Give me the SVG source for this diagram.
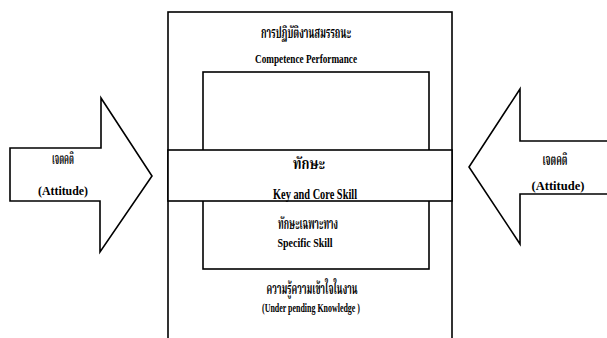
<svg xmlns="http://www.w3.org/2000/svg" width="607" height="338" viewBox="0 0 607 338">
<style>
.ln{fill:#fff;stroke:#000;stroke-width:1.6;stroke-linejoin:miter}
.t{font-family:"Liberation Serif","Noto Serif Thai","Noto Sans Thai","DejaVu Serif",serif;font-weight:bold;fill:#000;text-anchor:middle}
.th{font-size:16px}
</style>
<rect width="607" height="338" fill="#fff"/>
<g id="outer">
<rect class="ln" x="168" y="12" width="284" height="345"/>
<text class="t th" x="306" y="38" textLength="90" lengthAdjust="spacingAndGlyphs">การปฏิบัติงานสมรรถนะ</text>
<text class="t" x="306" y="63" font-size="12" textLength="102" lengthAdjust="spacingAndGlyphs">Competence Performance</text>
<text class="t th" x="312" y="294" textLength="91" lengthAdjust="spacingAndGlyphs">ความรู้ความเข้าใจในงาน</text>
<text class="t" x="311" y="312" font-size="12" textLength="98" lengthAdjust="spacingAndGlyphs">(Under pending Knowledge )</text>
</g>
<g id="inner">
<rect class="ln" x="203" y="72" width="226" height="197"/>
<text class="t th" x="308" y="229" textLength="60" lengthAdjust="spacingAndGlyphs">ทักษะเฉพาะทาง</text>
<text class="t" x="305" y="247" font-size="12" textLength="55" lengthAdjust="spacingAndGlyphs">Specific Skill</text>
</g>
<g id="band">
<rect class="ln" x="168" y="150" width="284" height="51"/>
<text class="t th" x="309" y="169" textLength="32" lengthAdjust="spacingAndGlyphs">ทักษะ</text>
<text class="t" x="315" y="199" font-size="14" textLength="84" lengthAdjust="spacingAndGlyphs">Key and Core Skill</text>
</g>
<g id="arrow-left">
<path class="ln" d="M10 148 H101 V98 L152 176 L100 252 V201 H10 Z"/>
<text class="t th" x="63" y="164" textLength="22" lengthAdjust="spacingAndGlyphs">เจตคติ</text>
<text class="t" x="63" y="195" font-size="12" textLength="50" lengthAdjust="spacingAndGlyphs">(Attitude)</text>
</g>
<g id="arrow-right">
<path class="ln" d="M609 141 H520 V89 L469 167 L520 244 V194 H609"/>
<text class="t th" x="555" y="165" textLength="25" lengthAdjust="spacingAndGlyphs">เจตคติ</text>
<text class="t" x="558" y="190" font-size="12" textLength="53" lengthAdjust="spacingAndGlyphs">(Attitude)</text>
</g>
<g id="connectors"></g>
</svg>
